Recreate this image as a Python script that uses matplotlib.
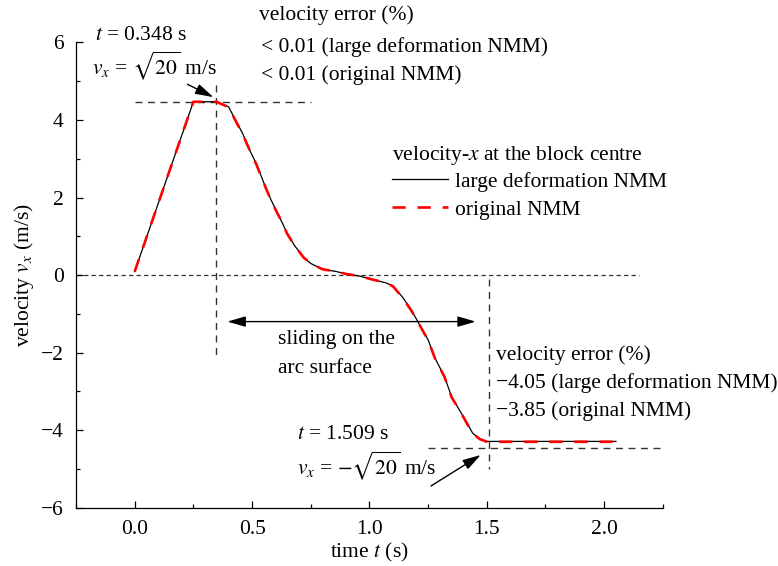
import matplotlib
matplotlib.use('Agg')
import matplotlib.pyplot as plt
from matplotlib.lines import Line2D
from matplotlib.ticker import MultipleLocator

plt.rcParams['font.family'] = ['Liberation Serif', 'DejaVu Serif']
plt.rcParams['mathtext.fontset'] = 'stix'
plt.rcParams['font.size'] = 15.5

# velocity-x at the block centre, large deformation NMM
t_large = [0.0, 0.25, 0.348, 0.40, 0.43, 0.46, 0.49, 0.52, 0.55, 0.58, 0.60, 0.63,
           0.65, 0.68, 0.72, 0.75, 0.80, 0.86, 0.90, 0.96, 1.01, 1.07, 1.10, 1.14,
           1.18, 1.21, 1.25, 1.28, 1.32, 1.35, 1.40, 1.44, 1.47, 1.50, 1.55, 2.05]
v_large = [0.09, 4.47, 4.47, 4.34, 3.99, 3.65, 3.22, 2.85, 2.38, 1.95, 1.70, 1.33,
           1.07, 0.77, 0.45, 0.30, 0.15, 0.09, 0.03, -0.03, -0.11, -0.20, -0.28, -0.56,
           -0.92, -1.24, -1.67, -2.15, -2.62, -3.14, -3.65, -4.08, -4.22, -4.29, -4.29, -4.29]

# original NMM
t_orig = [0.0, 0.25, 0.348, 0.40, 0.43, 0.46, 0.49, 0.52, 0.55, 0.58, 0.60, 0.63,
          0.65, 0.68, 0.72, 0.75, 0.80, 0.86, 0.90, 0.96, 1.01, 1.07, 1.10, 1.14,
          1.18, 1.21, 1.25, 1.28, 1.32, 1.35, 1.40, 1.44, 1.47, 1.50, 1.55, 2.05]
v_orig = [0.09, 4.47, 4.47, 4.33, 3.98, 3.63, 3.22, 2.83, 2.37, 1.94, 1.69, 1.33,
          1.06, 0.77, 0.45, 0.30, 0.15, 0.09, 0.03, -0.03, -0.11, -0.20, -0.29, -0.57,
          -0.93, -1.25, -1.68, -2.16, -2.63, -3.15, -3.66, -4.09, -4.23, -4.30, -4.30, -4.30]

t_peak = 0.348
t_end = 1.509
v_ref = 4.47

fig = plt.figure(figsize=(7.78, 5.66), dpi=100)
ax = fig.add_axes([0.0977, 0.103, 0.7543, 0.822])

ax.plot(t_large, v_large, color='black', lw=0.9, zorder=3)
ax.plot(t_orig, v_orig, color='red', lw=1.9, dashes=(5, 4.5), zorder=4)

# guide lines
ax.plot([-0.25, 2.15], [0, 0], color='#333333', lw=0.9, dashes=(3.5, 2.5), zorder=1)
ax.plot([0.0, 0.75], [v_ref, v_ref], color='#333333', lw=1.0, dashes=(5, 4), zorder=1)
ax.plot([t_peak, t_peak], [4.9, -2.1], color='#333333', lw=1.0, dashes=(5, 4), zorder=1)
ax.plot([1.25, 2.26], [-v_ref, -v_ref], color='#333333', lw=1.0, dashes=(5, 4),
        zorder=1, clip_on=False)
ax.plot([t_end, t_end], [-0.1, -5.0], color='#333333', lw=1.0, dashes=(5, 4), zorder=1)

arr = dict(arrowstyle='-|>,head_length=0.55,head_width=0.16', mutation_scale=20,
           color='black', lw=1.0, shrinkA=0, shrinkB=0)
ax.annotate('', xy=(0.335, 4.59), xytext=(0.225, 4.92), arrowprops=arr)
ax.annotate('', xy=(1.474, -4.64), xytext=(1.262, -5.44), arrowprops=arr)
ax.annotate('', xy=(1.453, -1.2), xytext=(0.395, -1.2),
            arrowprops=dict(arrowstyle='<|-|>,head_length=0.55,head_width=0.16',
                            mutation_scale=20, color='black', lw=1.0,
                            shrinkA=0, shrinkB=0))

# annotations
ax.text(-0.17, 6.18, r'$t$ = 0.348 s', va='center', ha='left')
ax.text(-0.18, 5.40, r'$v_x$ = $\sqrt{20}$ m/s', va='center', ha='left')
ax.text(0.53, 6.70, 'velocity error (%)', va='center', ha='left', clip_on=False)
ax.text(0.54, 5.88, '< 0.01 (large deformation NMM)', va='center', ha='left')
ax.text(0.54, 5.15, '< 0.01 (original NMM)', va='center', ha='left')
ax.text(0.61, -1.67, 'sliding on the', va='center', ha='left')
ax.text(0.61, -2.40, 'arc surface', va='center', ha='left')
ax.text(1.538, -2.06, 'velocity error (%)', va='center', ha='left')
ax.text(1.538, -2.78, '\u22124.05 (large deformation NMM)', va='center', ha='left')
ax.text(1.538, -3.50, '\u22123.85 (original NMM)', va='center', ha='left')
ax.text(0.69, -4.12, r'$t$ = 1.509 s', va='center', ha='left')
ax.text(0.69, -4.92, r'$v_x$ = $-\sqrt{20}$ m/s', va='center', ha='left')

handles = [Line2D([], [], color='black', lw=0.9),
           Line2D([], [], color='red', lw=1.9, dashes=(5, 4.5))]
leg = ax.legend(handles, ['large deformation NMM', 'original NMM'],
                title=r'velocity-$x$ at the block centre', title_fontsize=15.5,
                frameon=False, loc='upper left', bbox_to_anchor=(0.504, 0.745),
                bbox_transform=fig.transFigure, borderpad=0, borderaxespad=0,
                handlelength=2.6, handletextpad=0.3, labelspacing=0.38,
                alignment='left')
leg._legend_box.sep = 3

ax.set_xlim(-0.25, 2.25)
ax.set_ylim(-6, 6)
ax.xaxis.set_major_locator(MultipleLocator(0.5))
ax.xaxis.set_minor_locator(MultipleLocator(0.25))
ax.yaxis.set_major_locator(MultipleLocator(2))
ax.yaxis.set_minor_locator(MultipleLocator(1))
ax.tick_params(which='both', direction='in', width=0.9, pad=9)
ax.tick_params(which='major', length=5)
ax.tick_params(which='minor', length=3)
ax.spines['top'].set_visible(False)
ax.spines['right'].set_visible(False)
for s in ['left', 'bottom']:
    ax.spines[s].set_linewidth(0.9)

ax.set_xlabel(r'time $t$ (s)', labelpad=1)
ax.set_ylabel(r'velocity $v_x$ (m/s)', labelpad=3)

fig.savefig('out.png', dpi=100)
